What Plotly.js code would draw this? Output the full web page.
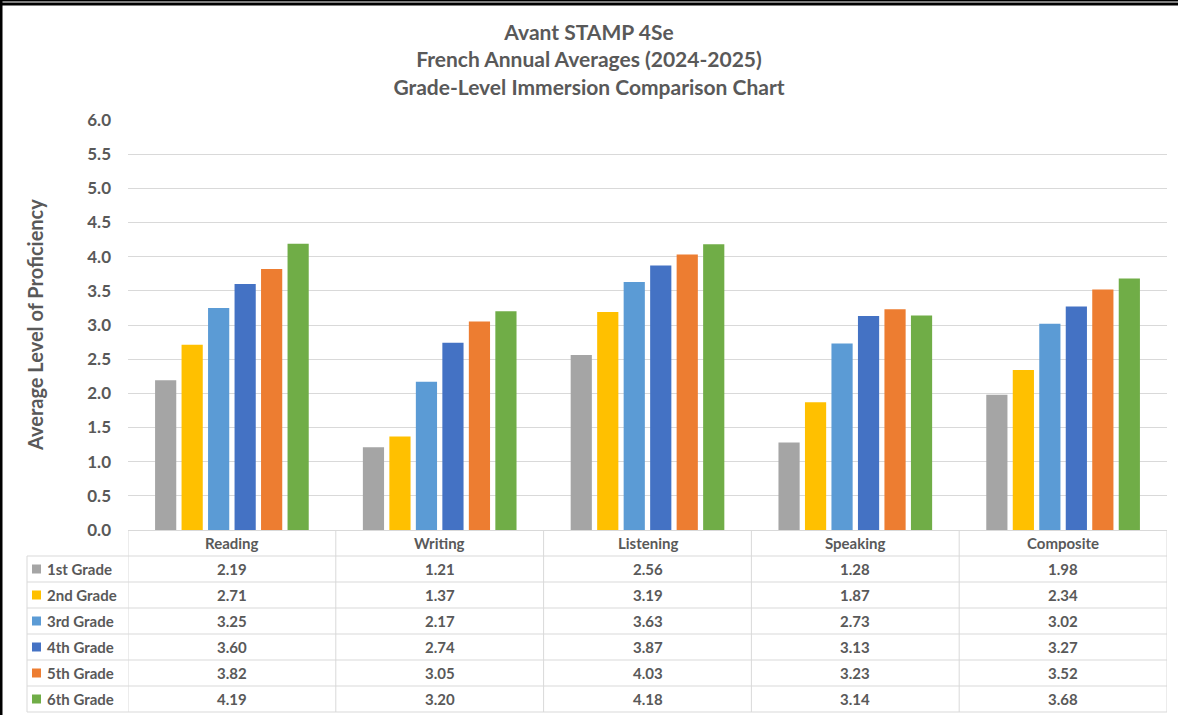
<!DOCTYPE html>
<html>
<head>
<meta charset="utf-8">
<script src="https://cdn.plot.ly/plotly-3.0.1.min.js"></script>
<style>
html,body{margin:0;padding:0;background:#fff;}
#chart{width:1178px;height:715px;}
</style>
</head>
<body>
<div id="chart"></div>
<script>
// ---- data ----
const categories = ["Reading", "Writing", "Listening", "Speaking", "Composite"];
const gradeNames = ["1st Grade", "2nd Grade", "3rd Grade", "4th Grade", "5th Grade", "6th Grade"];
const grade1 = [2.19, 1.21, 2.56, 1.28, 1.98];
const grade2 = [2.71, 1.37, 3.19, 1.87, 2.34];
const grade3 = [3.25, 2.17, 3.63, 2.73, 3.02];
const grade4 = [3.60, 2.74, 3.87, 3.13, 3.27];
const grade5 = [3.82, 3.05, 4.03, 3.23, 3.52];
const grade6 = [4.19, 3.20, 4.18, 3.14, 3.68];
const yTickVals = [0, 0.5, 1, 1.5, 2, 2.5, 3, 3.5, 4, 4.5, 5, 5.5, 6];

const series = [grade1, grade2, grade3, grade4, grade5, grade6];
const colors = ["#A5A5A5", "#FFC000", "#5B9BD5", "#4472C4", "#ED7D31", "#70AD47"];

// ---- layout geometry (pixels) ----
const W = 1178, H = 715;
const L = 128, R = 1167, T = 120, B = 530;
const px = x => (x - L) / (R - L);
const py = y => (B - y) / (B - T);
const rowH = 26;
const tableLeft = 27;
const FONT = "Lato, 'Open Sans', sans-serif";
const TXT = "#595959";
const GRID = "#D9D9D9";

const traces = series.map((vals, i) => ({
  type: "bar",
  name: gradeNames[i],
  x: categories,
  y: vals,
  marker: {color: colors[i]},
  hoverinfo: "x+y+name"
}));

const shapes = [];
const annotations = [];

// table horizontal lines
for (let r = 1; r <= 7; r++) {
  const y = B + r * rowH;
  shapes.push({type: "line", xref: "paper", yref: "paper", x0: px(tableLeft), x1: 1, y0: py(y), y1: py(y),
    line: {color: GRID, width: 1}});
}
// left border of table
shapes.push({type: "line", xref: "paper", yref: "paper", x0: px(tableLeft), x1: px(tableLeft),
  y0: py(B + rowH), y1: py(B + rowH * 7), line: {color: GRID, width: 1}});
// column boundaries
for (let c = 0; c <= categories.length; c++) {
  shapes.push({type: "line", xref: "x", yref: "paper", x0: c - 0.5, x1: c - 0.5,
    y0: py(B), y1: py(B + rowH * 7), line: {color: GRID, width: 1}});
}
// header labels
categories.forEach(cat => {
  annotations.push({xref: "x", yref: "paper", x: cat, y: py(B + rowH / 2), text: cat,
    showarrow: false, xanchor: "center", yanchor: "middle",
    font: {family: FONT, size: 15, color: TXT, weight: "bold"}});
});
// rows
series.forEach((vals, i) => {
  const yc = B + rowH * (i + 1) + rowH / 2;
  shapes.push({type: "rect", xref: "paper", yref: "paper",
    x0: px(32), x1: px(41), y0: py(yc - 4.5), y1: py(yc + 4.5),
    fillcolor: colors[i], line: {width: 0}});
  annotations.push({xref: "paper", yref: "paper", x: px(45), y: py(yc), text: gradeNames[i],
    showarrow: false, xanchor: "left", yanchor: "middle",
    font: {family: FONT, size: 15, color: TXT, weight: "bold"}});
  vals.forEach((v, j) => {
    annotations.push({xref: "x", yref: "paper", x: categories[j], y: py(yc), text: v.toFixed(2),
      showarrow: false, xanchor: "center", yanchor: "middle",
      font: {family: FONT, size: 15, color: TXT, weight: "bold"}});
  });
});

// y axis title
annotations.push({xref: "paper", yref: "paper", x: px(35), y: py(325), text: "Average Level of Proficiency",
  textangle: -90, showarrow: false, xanchor: "center", yanchor: "middle",
  font: {family: FONT, size: 20, color: TXT, weight: "bold"}});

// outer frame (black lines at top and left)
shapes.push({type: "rect", xref: "paper", yref: "paper", x0: px(0), x1: px(W), y0: py(0), y1: py(1.5),
  fillcolor: "#000", line: {width: 0}});
shapes.push({type: "rect", xref: "paper", yref: "paper", x0: px(0), x1: px(W), y0: py(2.5), y1: py(5.5),
  fillcolor: "#000", line: {width: 0}});
shapes.push({type: "rect", xref: "paper", yref: "paper", x0: px(0), x1: px(2.5), y0: py(0), y1: py(H),
  fillcolor: "#000", line: {width: 0}});

const layout = {
  width: W, height: H,
  margin: {l: L, r: W - R, t: T, b: H - B, pad: 0},
  paper_bgcolor: "#fff", plot_bgcolor: "#fff",
  showlegend: false,
  barmode: "group",
  bargap: 0.235,
  bargroupgap: 0.2,
  title: {
    text: "Avant STAMP 4Se<br>French Annual Averages (2024-2025)<br>Grade-Level Immersion Comparison Chart",
    x: 0.5, xref: "container", xanchor: "center",
    y: 1 - 40 / H, yref: "container", yanchor: "middle",
    font: {family: FONT, size: 21, color: TXT, weight: "bold"}
  },
  xaxis: {
    type: "category",
    range: [-0.5, 4.5],
    showticklabels: false, ticks: "",
    showgrid: false, zeroline: false,
    showline: true, linecolor: GRID, linewidth: 1,
    fixedrange: true
  },
  yaxis: {
    range: [0, 6],
    tickvals: yTickVals,
    tickformat: ".1f",
    ticks: "",
    ticklabelstandoff: 16,
    showgrid: true, gridcolor: GRID, gridwidth: 1,
    zeroline: false, showline: false,
    tickfont: {family: FONT, size: 17, color: TXT, weight: "bold"},
    fixedrange: true
  },
  shapes: shapes,
  annotations: annotations
};

Plotly.newPlot("chart", traces, layout, {displayModeBar: false, staticPlot: false});
</script>
</body>
</html>
